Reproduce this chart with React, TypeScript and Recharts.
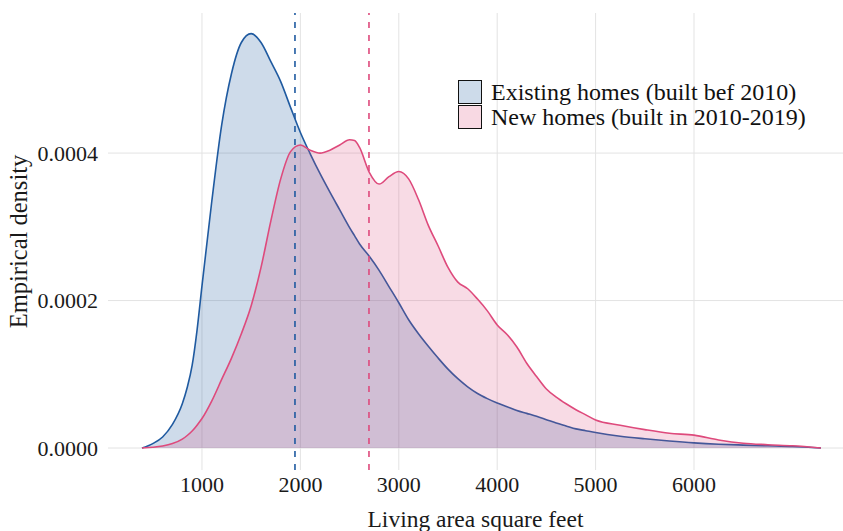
import React from "react";
import {
  ComposedChart,
  Area,
  XAxis,
  YAxis,
  CartesianGrid,
  ReferenceLine,
} from "recharts";

// living area (sq ft) sample points
const sqft = [
  390, 500, 600, 700, 800, 850, 900, 950, 1000, 1100, 1200, 1300, 1400, 1500,
  1600, 1700, 1800, 1900, 2000, 2100, 2200, 2300, 2400, 2500, 2550, 2600, 2700,
  2800, 2900, 3000, 3100, 3200, 3300, 3400, 3500, 3600, 3700, 3800, 3900, 4000,
  4100, 4200, 4300, 4400, 4500, 4600, 4700, 4800, 4900, 5000, 5250, 5500, 5750,
  6000, 6250, 6500, 6750, 7000, 7290,
];

// density values in units of 1e-4
const existingHomes = [
  0, 0.06, 0.15, 0.32, 0.6, 0.82, 1.12, 1.6, 2.2, 3.35, 4.38, 5.08, 5.5, 5.62,
  5.5, 5.24, 4.97, 4.62, 4.28, 3.99, 3.72, 3.47, 3.23, 2.99, 2.88, 2.77, 2.6,
  2.41, 2.19, 1.97, 1.74, 1.55, 1.38, 1.22, 1.07, 0.94, 0.83, 0.74, 0.67, 0.61,
  0.56, 0.51, 0.47, 0.43, 0.385, 0.34, 0.3, 0.26, 0.235, 0.21, 0.16, 0.125,
  0.095, 0.07, 0.052, 0.04, 0.03, 0.02, 0,
];

const newHomes = [
  0, 0.01, 0.027, 0.06, 0.12, 0.17, 0.23, 0.31, 0.4, 0.64, 0.93, 1.22, 1.55,
  1.93, 2.45, 3.08, 3.65, 4.02, 4.11, 4.04, 4.0, 4.04, 4.11, 4.18, 4.17, 4.08,
  3.74, 3.58, 3.68, 3.75, 3.65, 3.37, 3.02, 2.74, 2.45, 2.25, 2.16, 2.02, 1.86,
  1.67, 1.54, 1.37, 1.15, 0.97, 0.8, 0.69, 0.6, 0.52, 0.45, 0.38, 0.31, 0.25,
  0.2, 0.175, 0.11, 0.065, 0.045, 0.03, 0,
];

const xTicks = [1000, 2000, 3000, 4000, 5000, 6000];
const yTicks = [0, 0.0002, 0.0004];
const medianExisting = 1945;
const medianNew = 2697;

const seriesNames = [
  "Existing homes (built bef 2010)",
  "New homes (built in 2010-2019)",
];

const BLUE = "#1f5aa0";
const PINK = "#de4a7c";
const BLUE_FILL = "#cddbea";
const PINK_FILL = "#f8d9e3";
const FONT = "'Liberation Serif', 'DejaVu Serif', serif";

const data = sqft.map((x, i) => ({
  x,
  existing: existingHomes[i] * 1e-4,
  fresh: newHomes[i] * 1e-4,
}));

const LegendBox = () => (
  <div
    style={{
      position: "absolute",
      left: 458,
      top: 79,
      fontFamily: FONT,
      fontSize: 24,
      color: "#111",
      lineHeight: "26px",
    }}
  >
    {seriesNames.map((name, i) => (
      <div
        key={name}
        style={{ display: "flex", alignItems: "center", height: 25.5 }}
      >
        <div
          style={{
            width: 24,
            height: 24,
            boxSizing: "border-box",
            border: "1.5px solid #111",
            background: i === 0 ? BLUE_FILL : PINK_FILL,
            marginRight: 9,
          }}
        />
        <span style={{ whiteSpace: "nowrap" }}>{name}</span>
      </div>
    ))}
  </div>
);

export default function App() {
  return (
    <div style={{ position: "absolute", left: 0, top: 0, width: 843, height: 531 }}>
      <ComposedChart
        width={843}
        height={531}
        data={data}
        margin={{ top: 13, right: 0, bottom: 0, left: 0 }}
      >
        <CartesianGrid
          stroke="#e3e3e3"
          strokeWidth={1}
          verticalValues={xTicks}
          horizontalValues={yTicks}
        />
        <XAxis
          dataKey="x"
          type="number"
          domain={[45, 7514]}
          ticks={xTicks}
          allowDataOverflow
          axisLine={false}
          tickLine={false}
          tickSize={0}
          tickMargin={6}
          height={61}
          tick={{ fontFamily: FONT, fontSize: 22, fill: "#1a1a1a" }}
          label={{
            value: "Living area square feet",
            position: "insideBottom",
            offset: 4,
            style: { fontFamily: FONT, fontSize: 23.5, fill: "#1a1a1a" },
          }}
        />
        <YAxis
          type="number"
          domain={[-0.0000298, 0.00059]}
          ticks={yTicks}
          allowDataOverflow
          axisLine={false}
          tickLine={false}
          tickSize={0}
          tickMargin={10}
          width={108}
          tickFormatter={(v: number) => v.toFixed(4)}
          tick={{ fontFamily: FONT, fontSize: 22, fill: "#1a1a1a" }}
          label={{
            value: "Empirical density",
            angle: -90,
            position: "insideLeft",
            offset: 18,
            style: {
              fontFamily: FONT,
              fontSize: 24.5,
              fill: "#1a1a1a",
              textAnchor: "middle",
            },
          }}
        />
        <Area
          type="monotone"
          dataKey="existing"
          stroke={BLUE}
          strokeWidth={1.6}
          fill={BLUE}
          fillOpacity={0.22}
          baseValue={0}
          isAnimationActive={false}
          dot={false}
          activeDot={false}
        />
        <Area
          type="monotone"
          dataKey="fresh"
          stroke={PINK}
          strokeWidth={1.6}
          fill={PINK}
          fillOpacity={0.2}
          baseValue={0}
          isAnimationActive={false}
          dot={false}
          activeDot={false}
        />
        <ReferenceLine
          x={medianExisting}
          stroke={BLUE}
          strokeWidth={1.6}
          strokeDasharray="6 7"
        />
        <ReferenceLine
          x={medianNew}
          stroke={PINK}
          strokeWidth={1.6}
          strokeDasharray="6 7"
        />
      </ComposedChart>
      <LegendBox />
    </div>
  );
}
